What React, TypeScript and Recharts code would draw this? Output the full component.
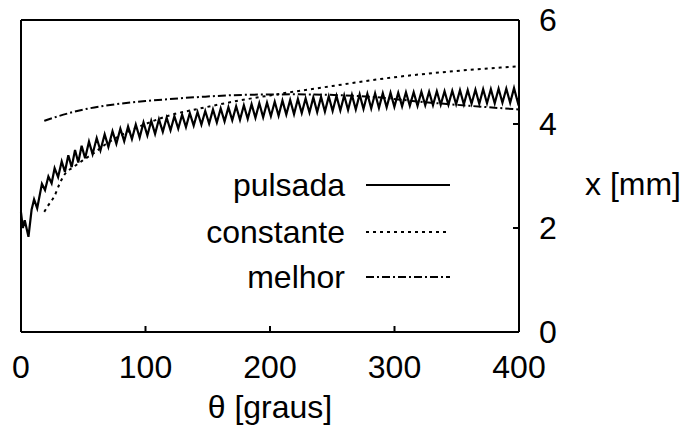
import React from "react";
import { Legend, Line, LineChart, XAxis, YAxis } from "recharts";

// pulsada: peaks and troughs of the ripple
const pulsadaTheta = [
  0, 1.5, 3, 6, 8.5, 10.5, 13, 16.8, 19.3, 22, 24.6, 27, 29.8, 32.7, 35.3, 38, 40.7, 43.4, 46, 48.7, 51.5,
  54.6, 57.5, 60.8, 63.8, 67.2, 70.2, 73.5, 76.6, 79.8, 82.9, 86, 89.1, 92.2, 95.3, 98.4, 101.5, 104.6, 107.7,
  110.8, 113.9, 117, 120.1, 123.2, 126.3, 129.4, 132.5, 135.6, 138.7, 141.8, 144.9, 148, 151.1, 154.2, 157.3,
  160.4, 163.5, 166.6, 169.7, 172.8, 175.9, 179, 182.1, 185.2, 188.3, 191.4, 194.5, 197.6, 200.7, 203.8, 206.9,
  210, 213.1, 216.2, 219.3, 222.4, 225.5, 228.6, 231.7, 234.8, 237.9, 241, 244.1, 247.2, 250.3, 253.4, 256.5,
  259.6, 262.7, 265.8, 268.9, 272, 275.1, 278.2, 281.3, 284.4, 287.5, 290.6, 293.7, 296.8, 299.9, 303, 306.1,
  309.2, 312.3, 315.4, 318.5, 321.6, 324.7, 327.8, 330.9, 334, 337.1, 340.2, 343.3, 346.4, 349.5, 352.6, 355.7,
  358.8, 361.9, 365, 368.1, 371.2, 374.3, 377.4, 380.5, 383.6, 386.7, 389.8, 392.9, 396, 399, 400,
];
const pulsadaX = [
  2.3, 2.0, 2.15, 1.83, 2.35, 2.55, 2.38, 2.85, 2.73, 2.99, 2.86, 3.15, 2.98, 3.28, 3.08, 3.4, 3.17, 3.5, 3.26,
  3.58, 3.34, 3.66, 3.42, 3.73, 3.49, 3.8, 3.56, 3.86, 3.62, 3.91, 3.67, 3.95, 3.71, 3.99, 3.74, 4.03, 3.78,
  4.06, 3.81, 4.09, 3.85, 4.12, 3.88, 4.15, 3.91, 4.18, 3.94, 4.21, 3.97, 4.23, 3.99, 4.25, 4.01, 4.28, 4.03,
  4.3, 4.05, 4.32, 4.07, 4.34, 4.08, 4.36, 4.1, 4.38, 4.12, 4.4, 4.13, 4.41, 4.15, 4.43, 4.16, 4.45, 4.18,
  4.46, 4.19, 4.48, 4.21, 4.49, 4.22, 4.51, 4.23, 4.52, 4.24, 4.53, 4.25, 4.54, 4.26, 4.55, 4.27, 4.56, 4.28,
  4.57, 4.29, 4.58, 4.3, 4.59, 4.31, 4.59, 4.32, 4.6, 4.33, 4.6, 4.34, 4.61, 4.35, 4.61, 4.35, 4.62, 4.36,
  4.62, 4.36, 4.63, 4.37, 4.63, 4.37, 4.64, 4.38, 4.65, 4.38, 4.65, 4.39, 4.66, 4.39, 4.67, 4.4, 4.67, 4.4,
  4.68, 4.41, 4.68, 4.41, 4.69, 4.42, 4.5,
];

const constanteTheta = [18.7, 22, 27, 31, 35, 42, 49, 59, 68, 80, 100, 120, 144, 175, 200, 250, 300, 350, 400];
const constanteX = [2.31, 2.44, 2.62, 2.85, 3.03, 3.17, 3.29, 3.45, 3.61, 3.78, 4.0, 4.17, 4.3, 4.45, 4.55, 4.73, 4.9, 5.02, 5.11];

const melhorTheta = [18.7, 30, 48.7, 70, 100, 144, 178, 220, 260, 283, 320, 360, 400];
const melhorX = [4.06, 4.15, 4.27, 4.36, 4.44, 4.52, 4.56, 4.57, 4.55, 4.52, 4.43, 4.35, 4.28];

const thetaTicks = [0, 100, 200, 300, 400];
const xTicks = [0, 2, 4, 6];

const pulsada = pulsadaTheta.map((t, i) => ({ theta: t, x: pulsadaX[i] }));
const constante = constanteTheta.map((t, i) => ({ theta: t, x: constanteX[i] }));
const melhor = melhorTheta.map((t, i) => ({ theta: t, x: melhorX[i] }));

const FONT = "'Liberation Sans', Arial, sans-serif";
const FS = 32;
const tickStyle = { fill: "#000", fontSize: FS, fontFamily: FONT };

function LegendBox() {
  const rows = [
    { name: "pulsada", dash: undefined as string | undefined, y: 25 },
    { name: "constante", dash: "3 4", y: 72 },
    { name: "melhor", dash: "8 3 2 3", y: 117 },
  ];
  return (
    <svg width={260} height={140}>
      {rows.map((r) => (
        <g key={r.name}>
          <text x={145} y={r.y} textAnchor="end" dominantBaseline="central" fontSize={FS} fontFamily={FONT} fill="#000">
            {r.name}
          </text>
          <line x1={166} x2={250} y1={r.y} y2={r.y} stroke="#000" strokeWidth={1.8} strokeDasharray={r.dash} />
        </g>
      ))}
    </svg>
  );
}

export default function App() {
  return (
    <div style={{ position: "absolute", left: 0, top: 0, background: "#fff" }}>
      <LineChart width={682} height={428} margin={{ top: 19, right: 103, bottom: 56, left: 20 }}>
        <XAxis
          xAxisId="bottom"
          type="number"
          dataKey="theta"
          domain={[0, 400]}
          ticks={thetaTicks}
          height={40}
          axisLine={{ stroke: "#000", strokeWidth: 2 }}
          tickLine={{ stroke: "#000", strokeWidth: 2 }}
          tickSize={-6}
          tickMargin={29}
          tick={tickStyle}
          label={{ value: "θ [graus]", position: "bottom", offset: 23, fill: "#000", fontSize: FS, fontFamily: FONT }}
        />
        <XAxis
          xAxisId="top"
          orientation="top"
          type="number"
          dataKey="theta"
          domain={[0, 400]}
          ticks={thetaTicks}
          height={1}
          axisLine={{ stroke: "#000", strokeWidth: 2 }}
          tickLine={{ stroke: "#000", strokeWidth: 2 }}
          tickSize={-6}
          tick={false}
        />
        <YAxis
          yAxisId="right"
          orientation="right"
          type="number"
          domain={[0, 6]}
          ticks={xTicks}
          width={60}
          axisLine={{ stroke: "#000", strokeWidth: 2 }}
          tickLine={{ stroke: "#000", strokeWidth: 2 }}
          tickSize={-6}
          tickMargin={26}
          tick={tickStyle}
          label={{ value: "x [mm]", position: "right", offset: 6, dy: 8, fill: "#000", fontSize: FS, fontFamily: FONT }}
        />
        <YAxis
          yAxisId="left"
          orientation="left"
          type="number"
          domain={[0, 6]}
          ticks={xTicks}
          width={1}
          axisLine={{ stroke: "#000", strokeWidth: 2 }}
          tickLine={{ stroke: "#000", strokeWidth: 2 }}
          tickSize={-6}
          tick={false}
        />
        <Legend
          layout="vertical"
          align="center"
          verticalAlign="middle"
          content={() => <LegendBox />}
          wrapperStyle={{ position: "absolute", left: 200, top: 160, width: 260, height: 140 }}
        />
        <Line
          xAxisId="bottom"
          yAxisId="right"
          data={pulsada}
          dataKey="x"
          name="pulsada"
          type="linear"
          stroke="#000"
          strokeWidth={2.2}
          dot={false}
          isAnimationActive={false}
        />
        <Line
          xAxisId="bottom"
          yAxisId="right"
          data={constante}
          dataKey="x"
          name="constante"
          type="monotone"
          stroke="#000"
          strokeWidth={2}
          strokeDasharray="3 4"
          dot={false}
          isAnimationActive={false}
        />
        <Line
          xAxisId="bottom"
          yAxisId="right"
          data={melhor}
          dataKey="x"
          name="melhor"
          type="monotone"
          stroke="#000"
          strokeWidth={2}
          strokeDasharray="8 3 2 3"
          dot={false}
          isAnimationActive={false}
        />
      </LineChart>
    </div>
  );
}
